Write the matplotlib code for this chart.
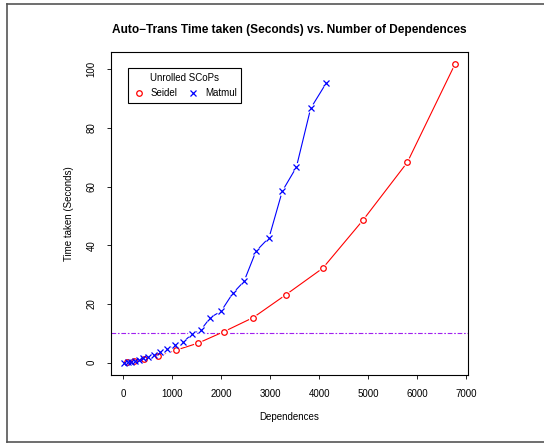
import matplotlib
matplotlib.use("Agg")
import matplotlib.pyplot as plt
from matplotlib.lines import Line2D

plt.rcParams['font.family'] = ['Liberation Sans', 'DejaVu Sans']

# Seidel (unrolled SCoPs)
seidel_deps = [80, 218, 429, 715, 1083, 1532, 2057, 2655, 3323, 4073, 4896, 5801, 6775]
seidel_time = [0.2, 0.6, 1.2, 2.4, 4.3, 6.7, 10.6, 15.4, 23.2, 32.2, 48.6, 68.3, 101.8]

# Matmul (unrolled SCoPs)
matmul_deps = [20, 90, 157, 239, 321, 409, 511, 633, 750, 886, 1056, 1226, 1400,
               1581, 1780, 2000, 2234, 2465, 2710, 2976, 3248, 3534, 3827, 4140]
matmul_time = [0.05, 0.1, 0.3, 0.7, 0.9, 1.5, 2.0, 2.6, 3.5, 4.5, 6.0, 7.1, 9.7,
               11.1, 15.4, 17.6, 23.6, 27.7, 38.0, 42.6, 58.5, 66.6, 86.7, 95.2]

threshold = 10

fig = plt.figure(figsize=(5.44, 4.43), dpi=100)
ax = fig.add_axes([110.7/544, 1-374.7/443, (468.3-110.7)/544, (374.7-52.3)/443])

# lines first, white halos to make the R "type=b" gaps, then the markers
ax.plot(seidel_deps, seidel_time, color='#FF0000', lw=0.8, zorder=1)
ax.plot(matmul_deps, matmul_time, color='#0000FF', lw=0.8, zorder=1)
ax.plot(seidel_deps, seidel_time, ls='none', marker='o', ms=6.5, mfc='white', mec='none', zorder=2)
ax.plot(matmul_deps, matmul_time, ls='none', marker='o', ms=6.5, mfc='white', mec='none', zorder=2)
ax.plot(seidel_deps, seidel_time, ls='none', marker='o', ms=4, mfc='none', mec='#FF0000', mew=0.9,
        label='Seidel', zorder=3)
ax.plot(matmul_deps, matmul_time, ls='none', marker='x', ms=4, mec='#0000FF', mew=0.9,
        label='Matmul', zorder=4)

ax.axhline(threshold, color='#A020F0', lw=0.8, ls=(0, (4.2, 1.6, 1.5, 1.6)), zorder=0)

ax.set_xlim(-257, 7046)
ax.set_ylim(-4.09, 105.8)
ax.set_xticks(range(0, 7001, 1000))
ax.set_yticks(range(0, 101, 20))
ax.tick_params(direction='out', length=3.1, width=0.6, labelsize=7, pad=7)
ax.tick_params(axis='y', pad=7)
for lab in ax.get_yticklabels():
    lab.set_rotation(90)
    lab.set_va('center')
for s in ax.spines.values():
    s.set_linewidth(0.8)

ax.set_xlabel('Dependences', fontsize=7, labelpad=9.5)
ax.set_ylabel('Time taken (Seconds)', fontsize=7, labelpad=9)
fig.text(289.5/544, 1-30/443, 'Auto\u2212Trans Time taken (Seconds) vs. Number of Dependences',
         ha='center', va='center', fontsize=8.6, fontweight='bold')

leg = ax.legend(title='Unrolled SCoPs', ncol=2, loc='upper left',
                bbox_to_anchor=((128.3-110.7)/357.6, 1-(68.3-52.3)/322.4),
                fontsize=7, title_fontsize=7, frameon=True, fancybox=False,
                edgecolor='black', framealpha=1, borderaxespad=0,
                handlelength=1.2, handletextpad=0.6, columnspacing=1.0,
                borderpad=0.5)
leg.get_frame().set_linewidth(0.8)

# outer frame of the screenshot: left, top and bottom edges only
l, t, b = 6.5/544, 1-3.7/443, 1-441.5/443
for xs, ys in [([l, l], [b, t]), ([l, 1.0], [t, t]), ([l, 1.0], [b, b])]:
    fig.add_artist(Line2D(xs, ys, transform=fig.transFigure, color='#555555', lw=1.2))

fig.savefig('out.png', dpi=100)
